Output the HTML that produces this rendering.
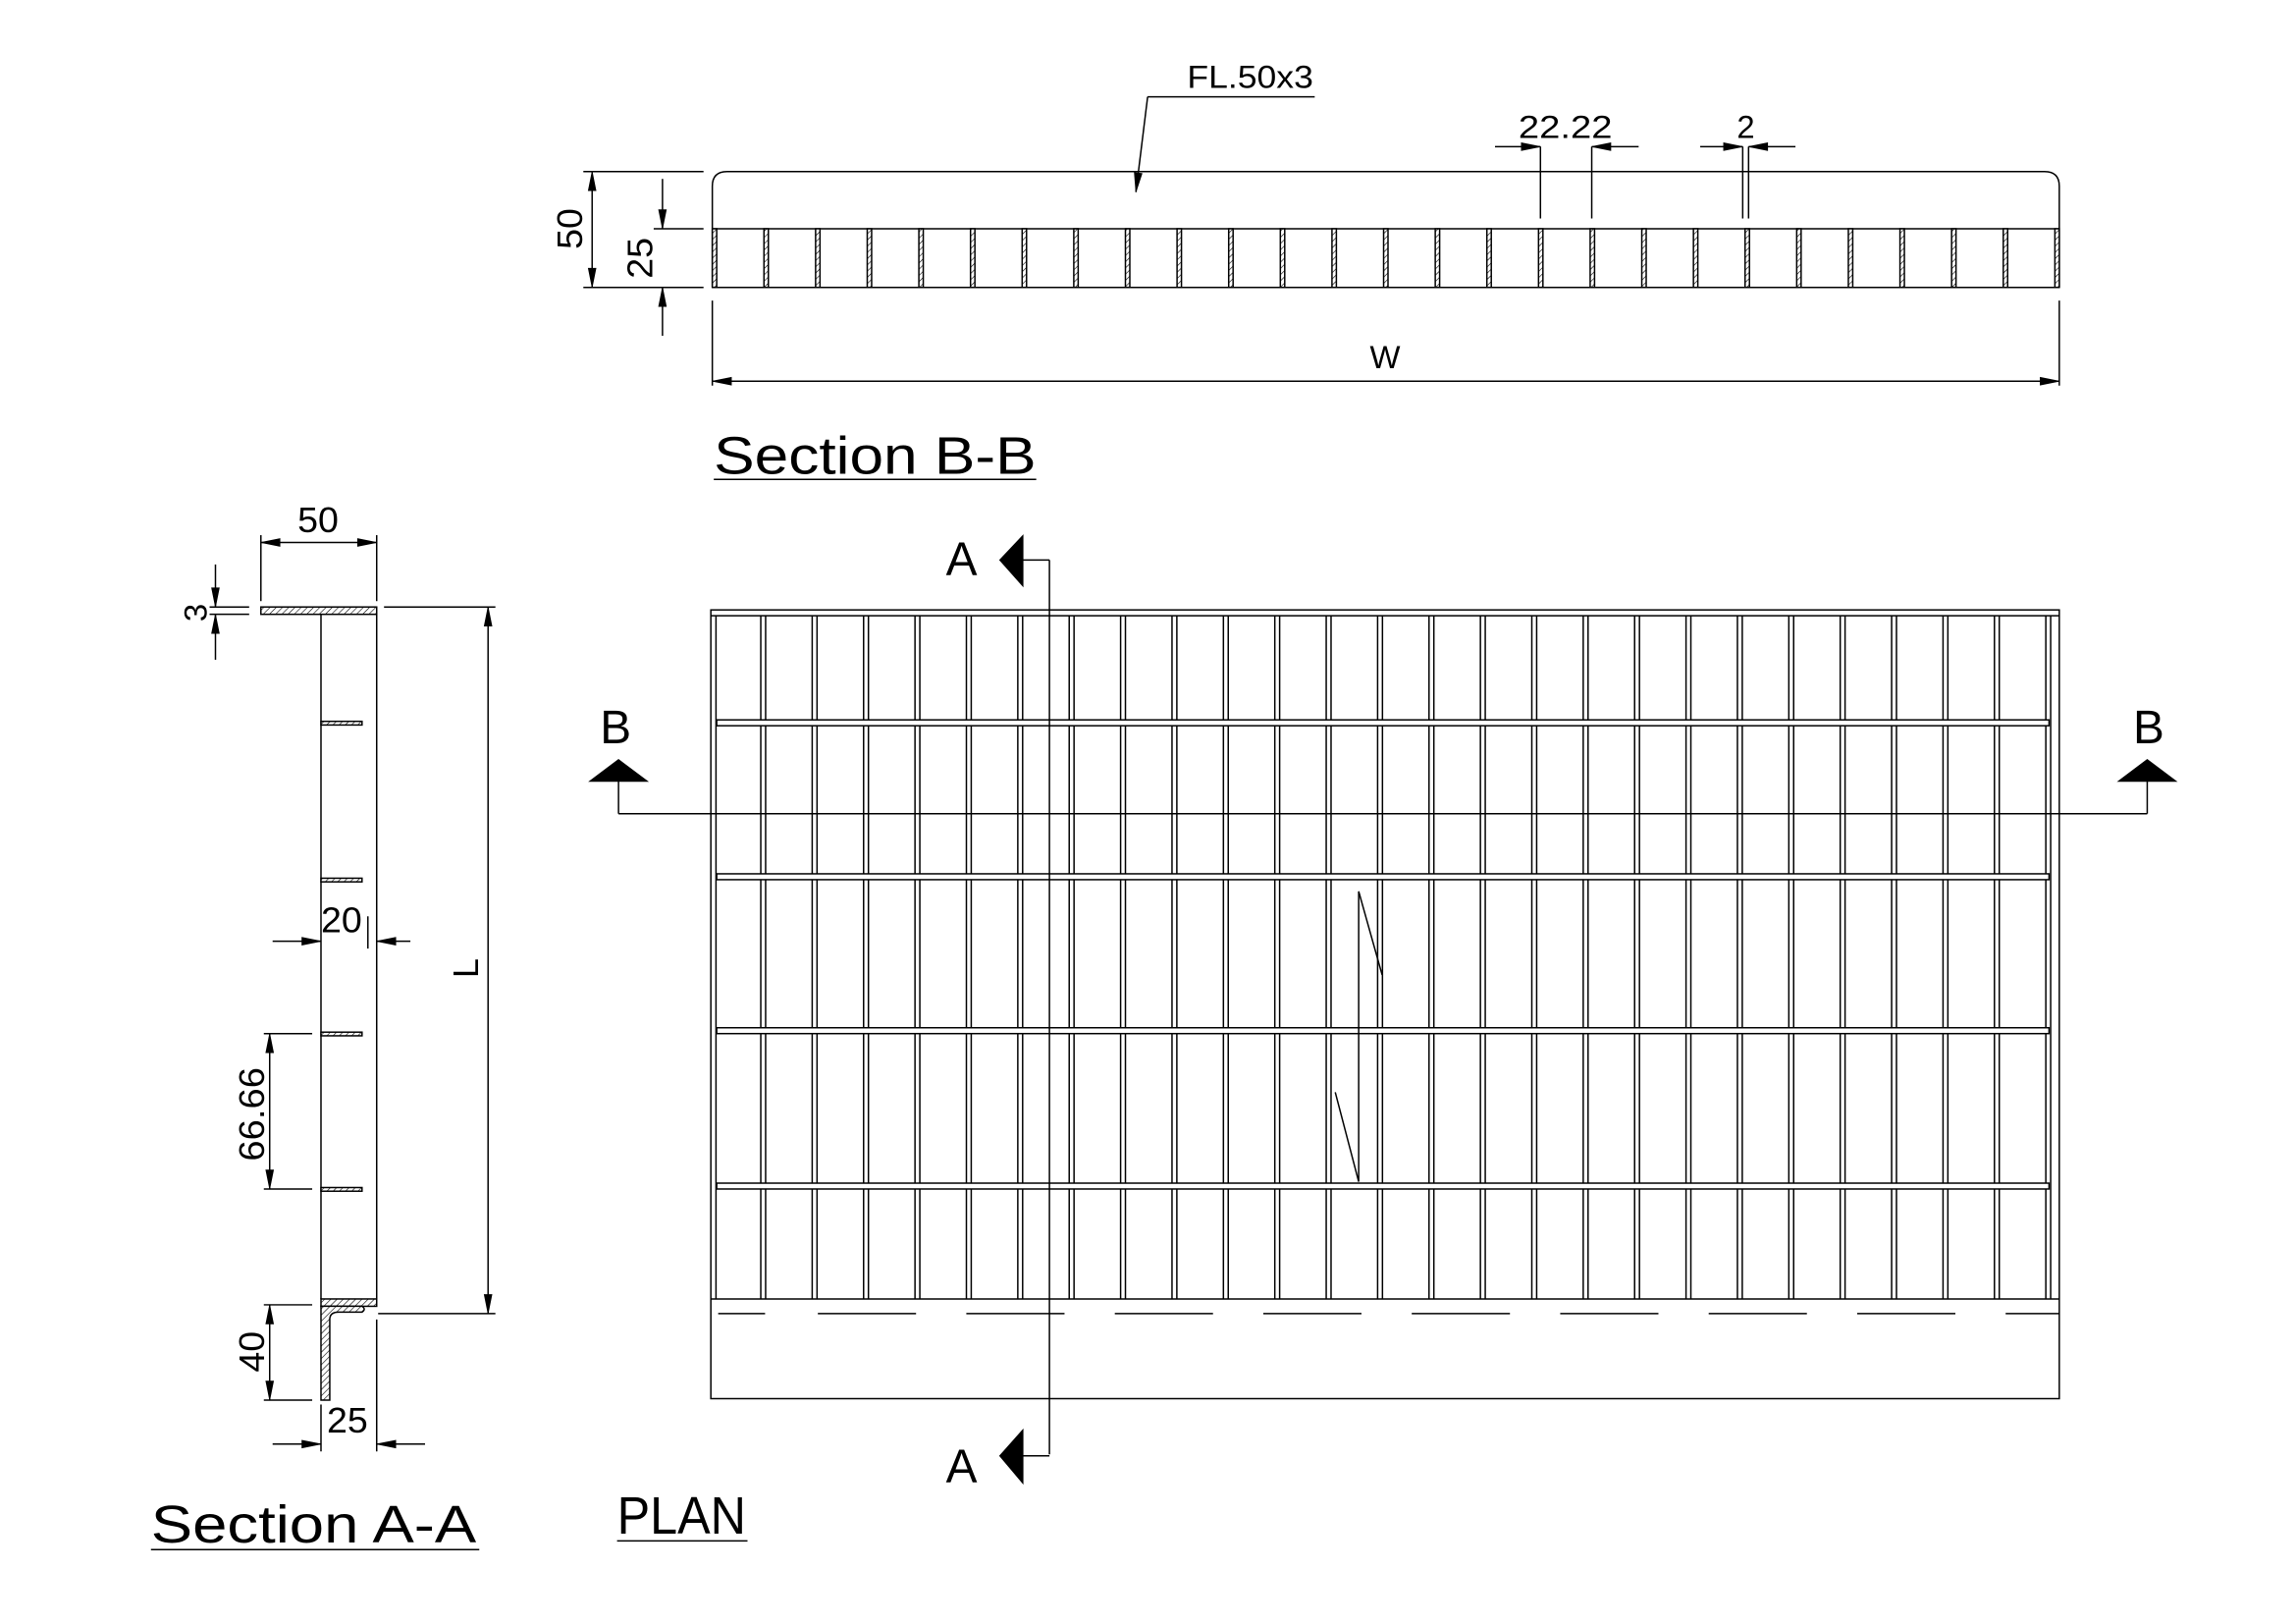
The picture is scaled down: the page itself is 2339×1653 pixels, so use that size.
<!DOCTYPE html>
<html><head><meta charset="utf-8"><style>
html,body{margin:0;padding:0;background:#fff;}
svg{display:block}
text{font-family:"Liberation Sans",sans-serif;fill:#000;}
</style></head><body>
<svg id="s" width="2339" height="1653" viewBox="0 0 1566.5 1107" xmlns="http://www.w3.org/2000/svg">
<defs>
<pattern id="h" patternUnits="userSpaceOnUse" width="3" height="3" patternTransform="rotate(45)">
<rect width="3" height="3" fill="#fff"/><line x1="0" y1="0" x2="0" y2="3" stroke="#000" stroke-width="0.8"/>
</pattern>
</defs>
<g id="g" stroke="#000" stroke-width="1" fill="none"></g>

<text x="810" y="60" font-size="22" textLength="86" lengthAdjust="spacingAndGlyphs">FL.50x3</text>
<text x="1036" y="94" font-size="22" textLength="64" lengthAdjust="spacingAndGlyphs">22.22</text>
<text x="1185" y="94" font-size="22">2</text>
<text x="945" y="251" font-size="22" text-anchor="middle">W</text>
<text transform="translate(397,170) rotate(-90)" font-size="24" textLength="28" lengthAdjust="spacingAndGlyphs">50</text>
<text transform="translate(445,190) rotate(-90)" font-size="24" textLength="28" lengthAdjust="spacingAndGlyphs">25</text>
<text x="487" y="323" font-size="36" textLength="220" lengthAdjust="spacingAndGlyphs">Section B-B</text>

<text x="203" y="363" font-size="24" textLength="28" lengthAdjust="spacingAndGlyphs">50</text>
<text transform="translate(141,424) rotate(-90)" font-size="22">3</text>
<text x="219" y="636" font-size="24" textLength="28" lengthAdjust="spacingAndGlyphs">20</text>
<text transform="translate(326,667) rotate(-90)" font-size="24">L</text>
<text transform="translate(180,792) rotate(-90)" font-size="24" textLength="64" lengthAdjust="spacingAndGlyphs">66.66</text>
<text transform="translate(180,936) rotate(-90)" font-size="24" textLength="28" lengthAdjust="spacingAndGlyphs">40</text>
<text x="223" y="977" font-size="24" textLength="28" lengthAdjust="spacingAndGlyphs">25</text>
<text x="103" y="1052" font-size="36" textLength="222" lengthAdjust="spacingAndGlyphs">Section A-A</text>

<text x="421" y="1046" font-size="36" textLength="88" lengthAdjust="spacingAndGlyphs">PLAN</text>
<text x="656" y="392" font-size="32" text-anchor="middle">A</text>
<text x="656" y="1011" font-size="32" text-anchor="middle">A</text>
<text x="420" y="507" font-size="32" text-anchor="middle">B</text>
<text x="1466" y="507" font-size="32" text-anchor="middle">B</text>
</svg>
<script>
var g=document.getElementById('g'),NS='http://www.w3.org/2000/svg';
function el(t,a){var e=document.createElementNS(NS,t);for(var k in a)e.setAttribute(k,a[k]);g.appendChild(e);return e;}
function L(x1,y1,x2,y2,w){el('line',{x1:x1,y1:y1,x2:x2,y2:y2,'stroke-width':w||1});}
function R(x,y,w,h,f){el('rect',{x:x,y:y,width:w,height:h,fill:f||'none'});}
function P(pts,f){el('polygon',{points:pts,fill:f||'#000',stroke:'#000','stroke-width':0.5});}
function A(x,y,dx,dy){var l=13,w=2.6;var bx=x-dx*l,by=y-dy*l;P(x+','+y+' '+(bx-dy*w)+','+(by+dx*w)+' '+(bx+dy*w)+','+(by-dx*w));}

el('path',{d:'M486,196 L486,127 Q486,117 496,117 L1395,117 Q1405,117 1405,127 L1405,196'});
L(486,156,1405,156);L(486,196,1405,196);
for(var k=0;k<=26;k++){var x=486+k*(1402-486)/26;R(x,156,3,40,'url(#h)');}
L(398,117,480,117);L(398,196,480,196);L(404,117,404,196);A(404,117,0,-1);A(404,196,0,1);
L(446,156,480,156);L(452,122,452,156);A(452,156,0,1);L(452,196,452,229);A(452,196,0,-1);
L(486,205,486,263);L(1405,205,1405,263);L(486,260,1405,260);A(486,260,-1,0);A(1405,260,1,0);
L(775,131,783,66);L(783,66,897,66);A(775,131,-0.12,1);
L(1051,100,1051,149);L(1086,100,1086,149);L(1020,100,1051,100);L(1086,100,1118,100);A(1051,100,1,0);A(1086,100,-1,0);
L(1189,100,1189,149);L(1193,100,1193,149);L(1160,100,1189,100);L(1193,100,1225,100);A(1189,100,1,0);A(1193,100,-1,0);
L(487,327,707,327);

R(178,414,79,5,'url(#h)');
L(219,419,219,886);L(257,419,257,886);
[492,599,704,810].forEach(function(y){R(219,y,28,2.5,'url(#h)');});
R(219,886,38,5,'url(#h)');
el('path',{d:'M219,891 L219,955 L225,955 L225,900 Q225,895 231,895 L247,895 Q250,893 247,891 Z',fill:'url(#h)'});
L(178,365,178,410);L(257,365,257,410);L(178,370,257,370);A(178,370,-1,0);A(257,370,1,0);
L(143,414,170,414);L(143,419,170,419);L(147,385,147,414);A(147,414,0,1);L(147,419,147,450);A(147,419,0,-1);
L(262,414,338,414);L(258,896,338,896);L(333,414,333,896);A(333,414,0,-1);A(333,896,0,1);
L(186,642,219,642);A(219,642,1,0);L(257,642,280,642);A(257,642,-1,0);L(251,625,251,647);
L(180,705,213,705);L(180,811,213,811);L(184,705,184,811);A(184,705,0,-1);A(184,811,0,1);
L(180,890,213,890);L(180,955,213,955);L(184,890,184,955);A(184,890,0,-1);A(184,955,0,1);
L(219,958,219,990);L(257,900,257,990);L(186,985,219,985);A(219,985,1,0);L(257,985,290,985);A(257,985,-1,0);
L(103,1057,327,1057);

R(485,416,920,538);
L(485,420,1405,420);
var pitch=35.07;
for(var k=1;k<=26;k++){var x=484+k*pitch;L(x,420,x,886);L(x+3.3,420,x+3.3,886);}
L(488.5,420,488.5,886);
[491,596,701,807].forEach(function(y){el('rect',{x:489,y:y,width:909,height:4,fill:'#fff'});});
L(485,886,1405,886);
L(490,896,522,896);
for(var x=558;x<1405;x+=101.3){L(x,896,Math.min(x+67,1405),896);}
L(927,608,927,806);L(927,608,943,665);L(911,745,927,806);
L(716,382,716,992);L(698,382,716,382);L(698,993,716,993);
P('682,382 698,365 698,400');P('682,993 698,975 698,1012');
L(422,555,1465,555);L(422,533,422,555);L(1465,533,1465,555);
P('402,533 422,518 442,533');P('1445,533 1465,518 1485,533');
L(421,1051,510,1051);
</script>
</body></html>
